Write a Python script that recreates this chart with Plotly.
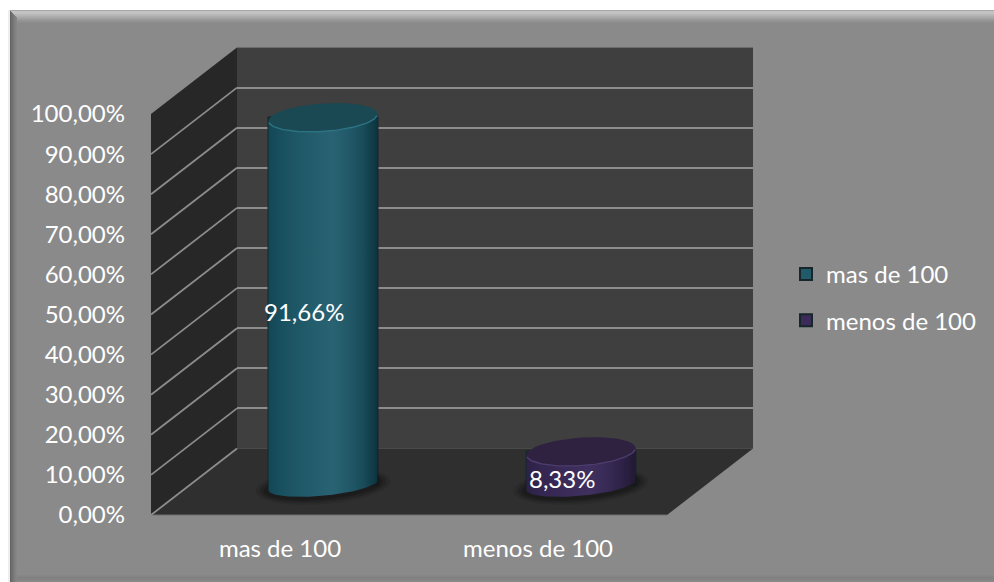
import math
import plotly.graph_objects as go

categories = ["mas de 100", "menos de 100"]
values = [91.66, 8.33]
value_labels = ["91,66%", "8,33%"]
y_ticks = [0, 10, 20, 30, 40, 50, 60, 70, 80, 90, 100]
y_tick_labels = ["0,00%", "10,00%", "20,00%", "30,00%", "40,00%", "50,00%",
                 "60,00%", "70,00%", "80,00%", "90,00%", "100,00%"]

W, H = 994, 582
FONT = "Lato"
TXT = "#ffffff"
FS = 24
PXU = 4.01           # pixels per percent
PXC = 258.0          # pixels per category


def px(x):
    return x / W


def py(y):
    return 1 - y / H


def dom_x(a, b):
    return [px(a), px(b)]


def dom_y(top, bottom):
    return [py(bottom), py(top)]


def poly(points, fill, line=None, width=0):
    d = "M" + " L".join(f"{px(x):.5f},{py(y):.5f}" for x, y in points) + " Z"
    return dict(type="path", path=d, xref="paper", yref="paper", fillcolor=fill,
                line=dict(color=line or fill, width=width), layer="below")


def seg(x0, y0, x1, y1, color, width=1):
    return dict(type="line", xref="paper", yref="paper", x0=px(x0), y0=py(y0),
                x1=px(x1), y1=py(y1), line=dict(color=color, width=width), layer="below")


shapes = []
# chart frame
shapes.append(poly([(10, 10), (W, 10), (W, H), (10, H)], "#8a8a8a"))
shapes.append(seg(9, 10, 9, H, "#dcdcdc", 1))
top_bevel = ["#a8a8a8", "#c2c2c2", "#c4c4c4", "#c0c0c0", "#bababa", "#b4b4b4", "#aeaeae",
             "#a8a8a8", "#a2a2a2", "#9c9c9c", "#969696", "#919191", "#8d8d8d"]
for i, c in enumerate(top_bevel):
    shapes.append(seg(10 + i * 0.6, 10.5 + i, W, 10.5 + i, c, 1))
left_bevel = ["#666666", "#6c6c6c", "#727272", "#787878", "#7d7d7d", "#828282", "#868686"]
for i, c in enumerate(left_bevel):
    shapes.append(seg(10.5 + i, 11 + i, 10.5 + i, H, c, 1))
bottom_bevel = ["#868686", "#848484", "#828282", "#828282", "#848484", "#868686"]
for i, c in enumerate(bottom_bevel):
    shapes.append(seg(17, 575.5 + i, W, 575.5 + i, c, 1))

# 3D walls
FX0, FX1, FY0, FY100 = 151, 667, 515, 114      # front plane
BX0, BX1, BY0, BY100 = 237, 753, 448.5, 47.5    # back plane
shapes.append(poly([(BX0, BY100), (BX1, BY100), (BX1, BY0), (BX0, BY0)], "#3f3f3f"))
shapes.append(poly([(FX0, FY100), (BX0, BY100), (BX0, BY0), (FX0, FY0)], "#272727"))
shapes.append(poly([(FX0, FY0), (BX0, BY0), (BX1, BY0), (FX1, FY0)], "#2f2f2f"))
shapes.append(seg(BX0, BY100, BX1, BY100, "#6a6a6a", 1))
shapes.append(seg(FX0, FY0, FX1, FY0, "#6f6f6f", 1))
for t in y_ticks[:-1]:
    dy = t * PXU
    shapes.append(seg(FX0, FY0 - dy, BX0, BY0 - dy, "#8c8c8c", 1.8))


def ellipse(cx, cy, a, b, tilt, t0=0.0, t1=2 * math.pi, n=72):
    xs, ys = [], []
    for i in range(n + 1):
        t = t0 + (t1 - t0) * i / n
        xs.append(cx + a * math.cos(t))
        ys.append(cy + b * math.sin(t) + tilt * math.cos(t))
    return xs, ys


A = 54.5 / PXC                # cylinder half width
B_TOP, T_TOP = 14.0 / PXU, 3.5 / PXU
B_BASE, T_BASE = 10.8 / PXU, 5.0 / PXU

side_scales = [
    [[0, "#134755"], [0.12, "#19505f"], [0.35, "#215b6a"], [0.58, "#296373"],
     [0.72, "#235a69"], [0.86, "#1a4d5b"], [1, "#0c343f"]],
    [[0, "#2c2145"], [0.12, "#33264f"], [0.35, "#3a2b58"], [0.58, "#3f305f"],
     [0.72, "#392b57"], [0.86, "#2f2349"], [1, "#221934"]],
]
top_colors = ["#1a4853", "#2e2240"]
rim_colors = ["#2c7384", "#4d3d6e"]
bar_colors = ["#215b6a", "#3a2b58"]

fig = go.Figure()

# back wall grid on the primary subplot
fig.add_trace(go.Scatter(x=[0], y=[0], mode="markers", marker=dict(opacity=0), xaxis="x", yaxis="y",
                         showlegend=False, hoverinfo="skip"))
# front axes with labels
fig.add_trace(go.Scatter(x=[0], y=[0], mode="markers", marker=dict(opacity=0), xaxis="x2", yaxis="y2",
                         showlegend=False, hoverinfo="skip"))

for i, (cat, val) in enumerate(zip(categories, values)):
    fig.add_trace(go.Bar(x=[i], y=[val], width=2 * A, name=cat, xaxis="x3", yaxis="y3",
                         legendgroup=cat,
                         marker=dict(color=bar_colors[i], line=dict(color="#16262b", width=2))))

for i, val in enumerate(values):
    # contact shadow
    for grow, alpha in ((13, 0.18), (9, 0.3), (5, 0.45)):
        sx, sy = ellipse(i, -0.3, A + grow / PXC, B_BASE + grow / PXU * 0.55, T_BASE)
        fig.add_trace(go.Scatter(x=sx, y=sy, mode="lines", fill="toself", line=dict(width=0),
                                 fillcolor=f"rgba(20,20,20,{alpha})", xaxis="x3", yaxis="y3",
                                 showlegend=False, hoverinfo="skip"))
    # side of cylinder: near half of the base ellipse plus the two vertical edges
    lx, ly = ellipse(i, 0, A, -B_BASE, T_BASE, 0, math.pi)
    xs = [i + A] + lx + [i - A, i + A]
    ys = [val + T_TOP] + ly + [val - T_TOP, val + T_TOP]
    fig.add_trace(go.Scatter(x=xs, y=ys, mode="lines", fill="toself", line=dict(width=0),
                             fillgradient=dict(type="horizontal", colorscale=side_scales[i]),
                             xaxis="x3", yaxis="y3", showlegend=False, hoverinfo="skip"))
    # top cap
    tx, ty = ellipse(i, val, A, B_TOP, T_TOP)
    fig.add_trace(go.Scatter(x=tx, y=ty, mode="lines", fill="toself", line=dict(width=0),
                             fillcolor=top_colors[i], xaxis="x3", yaxis="y3",
                             showlegend=False, hoverinfo="skip"))
    # highlighted rim on the near edge
    rx, ry = ellipse(i, val, A, -B_TOP, T_TOP, 0.12, math.pi - 0.12)
    fig.add_trace(go.Scatter(x=rx, y=ry, mode="lines", line=dict(color=rim_colors[i], width=1.4),
                             xaxis="x3", yaxis="y3", showlegend=False, hoverinfo="skip"))

annotations = [
    dict(x=i, y=v / 2, xref="x2", yref="y2", text=lab, showarrow=False, xshift=24, yshift=20,
         font=dict(family=FONT, size=FS, color=TXT))
    for i, (v, lab) in enumerate(zip(values, value_labels))
]

hidden = dict(showgrid=False, zeroline=False, showticklabels=False, ticks="", showline=False,
              fixedrange=True, automargin=False)
fig.update_layout(
    template="none",
    width=W, height=H, autosize=False,
    margin=dict(l=0, r=0, t=0, b=0, pad=0, autoexpand=False),
    paper_bgcolor="#ffffff", plot_bgcolor="rgba(0,0,0,0)",
    barmode="overlay",
    shapes=shapes, annotations=annotations,
    font=dict(family=FONT, size=FS, color=TXT),
    legend=dict(x=px(786), y=py(252), xanchor="left", yanchor="top", bgcolor="rgba(0,0,0,0)",
                traceorder="grouped", tracegroupgap=12, itemwidth=30, borderwidth=0,
                font=dict(family=FONT, size=FS, color=TXT)),
    xaxis=dict(domain=dom_x(BX0, BX1), range=[-0.5, 1.5], anchor="y", **hidden),
    yaxis=dict(domain=dom_y(BY100, BY0), range=[0, 100], anchor="x", tickmode="array", tickvals=y_ticks,
               showgrid=True, gridcolor="#8c8c8c", gridwidth=2, zeroline=False,
               showticklabels=False, ticks="", fixedrange=True, automargin=False),
    xaxis2=dict(domain=dom_x(FX0, FX1), range=[-0.5, 1.5], anchor="y2", tickmode="array",
                tickvals=[0, 1], ticktext=categories, showgrid=False, zeroline=False, ticks="",
                showline=False, ticklabelstandoff=17, fixedrange=True, automargin=False,
                tickfont=dict(family=FONT, size=FS, color=TXT)),
    yaxis2=dict(domain=dom_y(FY100, FY0), range=[0, 100], anchor="x2", tickmode="array",
                tickvals=y_ticks, ticktext=y_tick_labels, showgrid=False, zeroline=False, ticks="",
                showline=False, ticklabelstandoff=25, fixedrange=True, automargin=False,
                tickfont=dict(family=FONT, size=FS, color=TXT)),
    xaxis3=dict(domain=dom_x(194, 710), range=[-0.5, 1.5], anchor="y3", **hidden),
    yaxis3=dict(domain=dom_y(84, 485 + 10 * PXU), range=[-10, 100], anchor="x3", **hidden),
)

fig.write_html("out.html", config=dict(displayModeBar=False),
               post_script="document.body.style.margin='0';document.documentElement.style.overflow='hidden';")
